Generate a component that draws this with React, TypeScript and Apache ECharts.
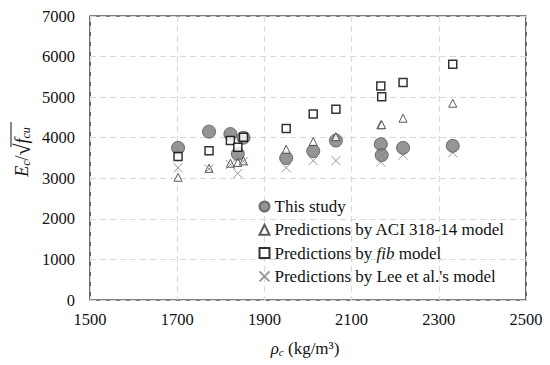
import React, { useEffect, useRef } from 'react';
import * as echarts from 'echarts';

const density = [1702, 1773, 1822, 1839, 1852, 1950, 2012, 2064, 2167, 2169, 2218, 2332];
const thisStudy = [3750, 4150, 4090, 3600, 4000, 3500, 3670, 3930, 3840, 3570, 3750, 3800];
const aciModel = [3025, 3245, 3370, 3390, 3430, 3715, 3905, 4025, 4320, 4320, 4480, 4850];
const fibModel = [3535, 3680, 3930, 3765, 4010, 4230, 4585, 4700, 5275, 5010, 5360, 5810];
const leeModel = [3260, 3230, 3340, 3120, 3420, 3260, 3435, 3435, 3400, 3560, 3570, 3630];

const seriesNames = [
  'This study',
  'Predictions by ACI 318-14 model',
  'Predictions by fib model',
  "Predictions by Lee et al.'s model",
];

const FONT = 'Liberation Serif';
const TXT = '#111';

function pairs(vals: number[]) {
  return density.map((d, i) => [d, vals[i]]);
}

export default function App() {
  const ref = useRef<HTMLDivElement>(null);
  useEffect(() => {
    if (!ref.current) return;
    const chart = echarts.init(ref.current, undefined, { renderer: 'svg' });
    const crossPath = 'path://M0,0L10,10M10,0L0,10';
    chart.setOption({
      animation: false,
      backgroundColor: '#fff',
      textStyle: { fontFamily: FONT },
      grid: {
        left: 90,
        right: 24,
        top: 16,
        bottom: 65,
        show: true,
        borderColor: '#000',
        borderWidth: 1.2,
      },
      xAxis: {
        type: 'value',
        min: 1500,
        max: 2500,
        interval: 200,
        axisLine: { show: false },
        axisTick: { show: false },
        axisLabel: {
          fontFamily: FONT,
          fontSize: 16.5,
          color: TXT,
          margin: 11,
          formatter: (v: number) => String(v),
        },
        splitLine: { show: true, lineStyle: { color: '#d9d9d9', type: [6, 4], width: 1.2 } },
      },
      yAxis: {
        type: 'value',
        min: 0,
        max: 7000,
        interval: 1000,
        axisLine: { show: false },
        axisTick: { show: false },
        axisLabel: {
          fontFamily: FONT,
          fontSize: 16.5,
          color: TXT,
          margin: 15,
          formatter: (v: number) => String(v),
        },
        splitLine: { show: true, lineStyle: { color: '#d9d9d9', type: [6, 4], width: 1.2 } },
      },
      legend: {
        orient: 'vertical',
        left: 252,
        top: 193,
        itemWidth: 10,
        itemHeight: 10,
        itemGap: 6.3,
        textStyle: {
          fontFamily: FONT,
          fontSize: 17,
          color: TXT,
          rich: {
            i: { fontFamily: FONT, fontSize: 17, fontStyle: 'italic', color: TXT },
          },
        },
        formatter: (name: string) =>
          name === seriesNames[2] ? 'Predictions by {i|fib} model' : name,
        data: seriesNames,
      },
      series: [
        {
          name: seriesNames[0],
          type: 'scatter',
          symbol: 'circle',
          symbolSize: 13,
          itemStyle: { color: '#7a7a7a', borderColor: '#555', borderWidth: 1 },
          data: pairs(thisStudy),
        },
        {
          name: seriesNames[1],
          type: 'scatter',
          symbol: 'triangle',
          symbolSize: 8,
          itemStyle: { color: '#fff', borderColor: '#333', borderWidth: 1 },
          data: pairs(aciModel),
        },
        {
          name: seriesNames[2],
          type: 'scatter',
          symbol: 'rect',
          symbolSize: 8,
          itemStyle: { color: '#fff', borderColor: '#000', borderWidth: 1.5 },
          data: pairs(fibModel),
        },
        {
          name: seriesNames[3],
          type: 'scatter',
          symbol: crossPath,
          symbolSize: 9,
          itemStyle: { color: 'none', borderColor: '#808080', borderWidth: 1 },
          data: pairs(leeModel),
        },
      ],
      graphic: [
        {
          type: 'group',
          x: 22,
          y: 152,
          rotation: Math.PI / 2,
          children: [
            {
              type: 'text',
              x: 0,
              y: 0,
              style: {
                text: '{e|E}{s|c}{n|/}{r|√}{e|f}{s|cu}',
                align: 'center',
                verticalAlign: 'middle',
                rich: {
                  e: { fontFamily: FONT, fontSize: 18, fontStyle: 'italic', fill: TXT },
                  s: { fontFamily: FONT, fontSize: 12, fontStyle: 'italic', fill: TXT, padding: [8, 0, 0, 0] },
                  n: { fontFamily: FONT, fontSize: 18, fill: TXT },
                  r: { fontFamily: FONT, fontSize: 22, fill: TXT },
                },
              },
            },
            {
              type: 'line',
              shape: { x1: 5, y1: -11, x2: 30, y2: -11 },
              style: { stroke: TXT, lineWidth: 1 },
            },
          ],
        },
        {
          type: 'text',
          x: 305,
          y: 348,
          style: {
            text: '{g|ρ}{s|c}{n| (kg/m³)}',
            align: 'center',
            verticalAlign: 'middle',
            rich: {
              g: { fontFamily: FONT, fontSize: 17, fontStyle: 'italic', fill: TXT },
              s: { fontFamily: FONT, fontSize: 11, fontStyle: 'italic', fill: TXT, padding: [7, 0, 0, 0] },
              n: { fontFamily: FONT, fontSize: 17, fill: TXT },
            },
          },
        },
      ],
    });
    return () => chart.dispose();
  }, []);
  return (
    <div
      ref={ref}
      style={{ position: 'fixed', left: 0, top: 0, width: 550, height: 365 }}
    />
  );
}
